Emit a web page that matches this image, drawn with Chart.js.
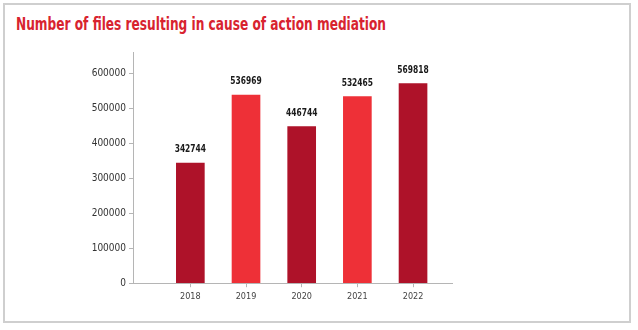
<!DOCTYPE html>
<html>
<head>
<meta charset="utf-8">
<script src="https://cdn.jsdelivr.net/npm/chart.js@4.4.1/dist/chart.umd.min.js"></script>
<style>
  html, body { margin: 0; padding: 0; background: #fff; }
  body { width: 638px; height: 330px; position: relative; overflow: hidden; }
  .frame { position: absolute; left: 3px; top: 3px; width: 628px; height: 320px; border: 2px solid #cfcfcf; box-sizing: border-box; }
  .title { position: absolute; left: 16px; top: 13px; color: #d8232f; font-family: "Liberation Sans Narrow", "DejaVu Sans Condensed", "Roboto Condensed", sans-serif; font-weight: bold; font-size: 18px; white-space: nowrap; transform-origin: 0 0; }
  .wrap { position: absolute; left: 0; top: 0; width: 638px; height: 330px; }
</style>
</head>
<body>
<div class="frame"></div>
<div class="title" id="title">Number of files resulting in cause of action mediation</div>
<div class="wrap"><canvas id="chart" width="638" height="330"></canvas></div>
<script>
/* ── DATA ── */
var years  = [2018, 2019, 2020, 2021, 2022];
var files  = [342744, 536969, 446744, 532465, 569818];
var colors = ['#ae1229', '#ee3037', '#ae1229', '#ee3037', '#ae1229'];
var yTicks = [0, 100000, 200000, 300000, 400000, 500000, 600000];

var FONT = '"Liberation Sans Narrow", "DejaVu Sans Condensed", "Roboto Condensed", sans-serif';

/* squeeze title to the reference width */
var t = document.getElementById('title');
var tw = t.getBoundingClientRect().width;
if (tw > 370) t.style.transform = 'scaleX(' + (370 / tw) + ')';

/* ── VALUE LABELS ── */
var valueLabels = {
  id: 'valueLabels',
  afterDatasetsDraw: function(chart) {
    var ctx = chart.ctx;
    var meta = chart.getDatasetMeta(0);
    ctx.save();
    ctx.font = 'bold 11px ' + FONT;
    ctx.fillStyle = '#1a1a1a';
    ctx.textAlign = 'center';
    ctx.textBaseline = 'bottom';
    for (var i = 0; i < meta.data.length; i++) {
      var bar = meta.data[i];
      // squeeze, the reference face is very narrow
      ctx.save();
      ctx.translate(bar.x, bar.y - 8);
      ctx.scale(0.76, 1);
      ctx.fillText(String(files[i]), 0, 0);
      ctx.restore();
    }
    ctx.restore();
  }
};

var points = [];
for (var i = 0; i < years.length; i++) points.push({ x: years[i], y: files[i] });

new Chart(document.getElementById('chart').getContext('2d'), {
  type: 'bar',
  data: {
    datasets: [{
      data: points,
      backgroundColor: colors,
      barThickness: 28,
      borderWidth: 0
    }]
  },
  plugins: [valueLabels],
  options: {
    responsive: false,
    animation: false,
    layout: { padding: { left: 0, right: 186, top: 52, bottom: 24 } },
    plugins: { legend: { display: false }, tooltip: { enabled: false } },
    scales: {
      x: {
        type: 'linear',
        min: 2016.97,
        max: 2022.7,
        offset: false,
        afterBuildTicks: function(s) { s.ticks = years.map(function(v) { return { value: v }; }); },
        grid: { display: true, offset: false, drawOnChartArea: false, tickLength: 4, color: '#b5b5b5' },
        border: { display: true, color: '#b5b5b5', width: 1 },
        ticks: {
          color: '#444',
          font: { family: FONT, size: 9 },
          padding: 4,
          maxRotation: 0,
          callback: function(v) { return String(v); }
        }
      },
      y: {
        min: 0,
        max: 660000,
        afterBuildTicks: function(s) { s.ticks = yTicks.map(function(v) { return { value: v }; }); },
        afterFit: function(s) { s.width = 133; },
        grid: { display: true, drawOnChartArea: false, tickLength: 4, color: '#b5b5b5' },
        border: { display: true, color: '#b5b5b5', width: 1 },
        ticks: {
          color: '#333',
          font: { family: FONT, size: 10 },
          padding: 3,
          callback: function(v) { return String(v); }
        }
      }
    }
  }
});
</script>
</body>
</html>
